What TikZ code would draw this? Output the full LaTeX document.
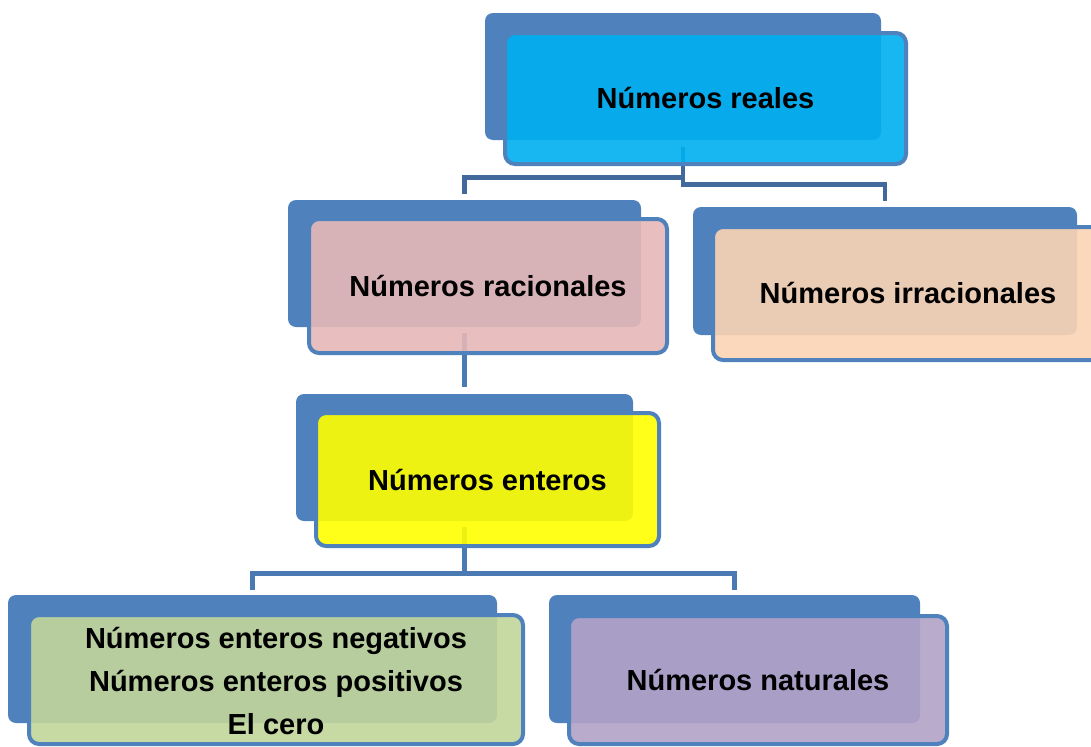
\documentclass[tikz,border=0pt]{standalone}
\usepackage{fontspec}
\setmainfont{Liberation Sans}
\usetikzlibrary{fit}
\definecolor{backblue}{HTML}{4F81BD}
\definecolor{edgeblue}{HTML}{4F81BD}
\definecolor{conntop}{HTML}{41699C}
\definecolor{connlow}{HTML}{4A79B3}
\definecolor{cReales}{HTML}{00B0F0}
\definecolor{cRac}{HTML}{E6B9B8}
\definecolor{cIrr}{HTML}{FBD4B4}
\definecolor{cEnt}{HTML}{FFFF00}
\definecolor{cNeg}{HTML}{C3D69B}
\definecolor{cNat}{HTML}{B2A2C7}
\tikzset{
  backbox/.style={fill=backblue, draw=none, rounded corners=6pt, inner sep=0pt},
  frontbox/.style={draw=edgeblue, line width=3pt, rounded corners=7.5pt, inner sep=0pt,
    fill opacity=0.9, draw opacity=1},
  label text/.style={align=center, inner sep=0pt,
    font=\bfseries\fontsize{21.75pt}{32.25pt}\selectfont},
  conn/.style={line width=3.5pt, connlow},
  conntopst/.style={line width=3.5pt, conntop}
}
\begin{document}
\begin{tikzpicture}[x=0.75pt,y=-0.75pt]
\clip (0,0) rectangle (1091,746);
\fill[white] (0,0) rectangle (1091,746);
% back boxes
\node[backbox, fit={(485,13) (881,140)}] (realesB) {};
\node[backbox, fit={(288,200) (641,327)}] (racB) {};
\node[backbox, fit={(693,207) (1077,335)}] (irrB) {};
\node[backbox, fit={(296,394) (633,521)}] (entB) {};
\node[backbox, fit={(8,595) (497,723)}] (negB) {};
\node[backbox, fit={(549,595) (920,723)}] (natB) {};
% connectors
\draw[conntopst, shorten <=5.25pt, shorten >=4.5pt] (realesB.south) -- ++(0,37) -| (racB.north);
\draw[conntopst, shorten <=5.25pt, shorten >=4.5pt] (realesB.south) -- ++(0,44) -| (irrB.north);
\draw[conn, shorten <=4.5pt, shorten >=5.25pt] (racB.south) -- (entB.north);
\draw[conn, shorten <=4.5pt, shorten >=3.75pt] (entB.south) -- ++(0,52) -| (negB.north);
\draw[conn, shorten <=4.5pt, shorten >=3.75pt] (entB.south) -- ++(0,52) -| (natB.north);
% front boxes
\node[frontbox, fill=cReales, fit={(505,33) (906,164)}] (reales) {};
\node[frontbox, fill=cRac, fit={(309,219) (667,353)}] (rac) {};
\node[frontbox, fill=cIrr, fit={(713,227) (1103,360)}] (irr) {};
\node[frontbox, fill=cEnt, fit={(316,413) (659,546)}] (ent) {};
\node[frontbox, fill=cNeg, fit={(29,615) (523,744)}] (neg) {};
\node[frontbox, fill=cNat, fit={(569,616) (947,744)}] (nat) {};
% texts
\node[label text] (realesT) at (reales.center) {Números reales};
\node[label text] (racT) at (rac.center) {Números racionales};
\node[label text] (irrT) at (irr.center) {Números irracionales};
\node[label text] (entT) at (ent.center) {Números enteros};
\node[label text] (negT) at ([yshift=-1pt]neg.center) {Números enteros negativos\\Números enteros positivos\\El cero};
\node[label text] (natT) at (nat.center) {Números naturales};
\end{tikzpicture}
\end{document}
